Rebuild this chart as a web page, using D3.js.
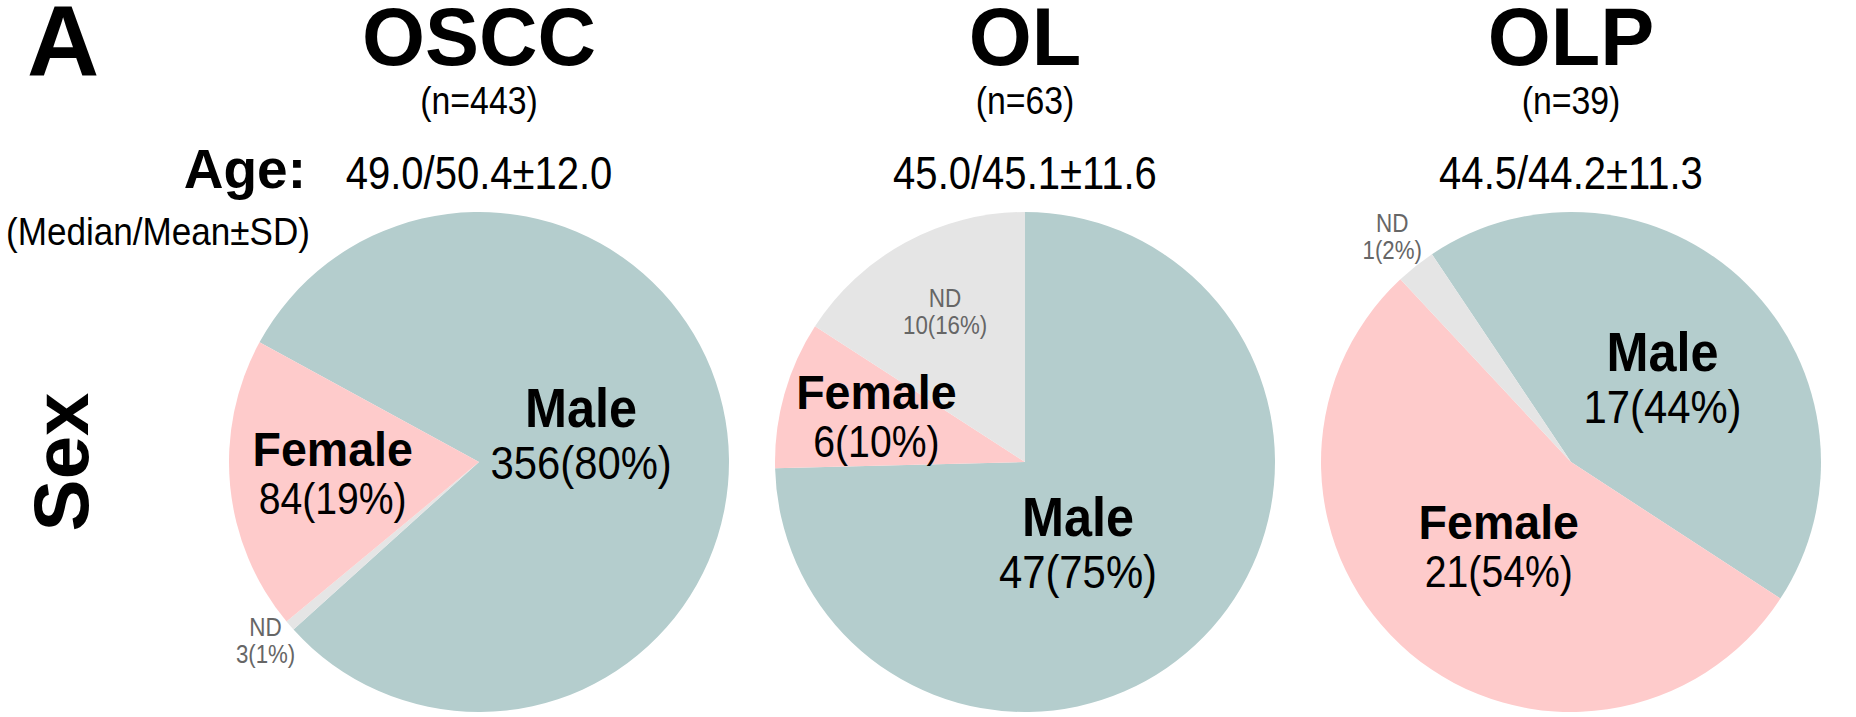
<!DOCTYPE html>
<html>
<head>
<meta charset="utf-8">
<script src="https://cdn.jsdelivr.net/npm/d3@7"></script>
<style>
body { margin: 0; background: #fff; }
svg text { font-family: "Liberation Sans", Arial, Helvetica, sans-serif; }
</style>
</head>
<body>
<div id="vis"></div>
<script>
// values
var groups = ["OSCC", "OL", "OLP"];
var groupN = [443, 63, 39];
var ageMedian = ["49.0", "45.0", "44.5"];
var ageMean = ["50.4", "45.1", "44.2"];
var ageSD = ["12.0", "11.6", "11.3"];
var sexCats = ["Male", "Female", "ND"];
var maleCount = [356, 47, 17];
var femaleCount = [84, 6, 21];
var ndCount = [3, 10, 1];
var malePct = [80, 75, 44];
var femalePct = [19, 10, 54];
var ndPct = [1, 16, 2];

// layout
var width = 1856, height = 717;
var radius = 250, cy = 462;

// slice order + rotation of each pie (degrees clockwise from 12 o'clock)
var sliceOrder = [["Male", "ND", "Female"], ["Male", "Female", "ND"], ["Male", "Female", "ND"]];
var startDeg = [298.6, 0, 326.2];

// where the labels sit: fraction of radius + small angle nudge
var labelPlace = [
    {Male: {f: 0.41, da: 1.8}, Female: {f: 0.596, da: -5.3}, ND: {f: 1.136, da: -0.4}},
    {Male: {f: 0.454, da: 17.9}, Female: {f: 0.606, da: -4.5}, ND: {f: 0.65, da: -0.9}},
    {Male: {f: 0.448, da: 10.1}, Female: {f: 0.498, da: -4.6}, ND: {f: 1.124, da: -1.1}}
];

// the original uses a narrow-ish face, so text gets squeezed a bit (sx)
var labelStyle = {
    Male: {top: 56, topSx: 0.9, val: 47, off: 26, weight: "bold", fill: "#000"},
    Female: {top: 48, topSx: 0.97, val: 44, off: 24, weight: "bold", fill: "#000"},
    ND: {top: 25, topSx: 0.9, val: 25, off: 13.5, weight: "normal", fill: "#666"}
};
var narrow = 0.89;

var x = d3.scalePoint().domain(groups).range([479, 1571]);

var color = d3.scaleOrdinal()
    .domain(sexCats)
    .range(["#b4cdcd", "#fecbcb", "#e5e5e5"]);

var svg = d3.select("#vis")
    .append("svg")
    .attr("width", width)
    .attr("height", height);

function addText(parent, tx, ty, sx, txt) {
    return parent.append("text")
        .attr("transform", "translate(" + tx + "," + ty + ") scale(" + sx + ",1)")
        .text(txt);
}

// panel letter and row label
svg.append("text")
    .attr("x", 27)
    .attr("y", 76)
    .style("font-size", "100px")
    .style("font-weight", "bold")
    .text("A");

svg.append("text")
    .attr("transform", "translate(88," + cy + ") rotate(-90)")
    .attr("text-anchor", "middle")
    .style("font-size", "78px")
    .style("font-weight", "bold")
    .text("Sex");

// age row label
svg.append("text")
    .attr("x", 306)
    .attr("y", 188)
    .attr("text-anchor", "end")
    .style("font-size", "55px")
    .style("font-weight", "bold")
    .text("Age:");

addText(svg, 310, 245, 0.9, "(Median/Mean\u00b1SD)")
    .attr("text-anchor", "end")
    .style("font-size", "39px");

var arc = d3.arc().innerRadius(0).outerRadius(radius);

groups.forEach(function (g, i) {
    var counts = {Male: maleCount[i], Female: femaleCount[i], ND: ndCount[i]};
    var pcts = {Male: malePct[i], Female: femalePct[i], ND: ndPct[i]};
    var rows = sliceOrder[i].map(function (c) {
        return {cat: c, count: counts[c], pct: pcts[c]};
    });

    var a0 = startDeg[i] * Math.PI / 180;
    var pie = d3.pie()
        .sort(null)
        .value(function (d) { return d.count; })
        .startAngle(a0)
        .endAngle(a0 + 2 * Math.PI);

    var cx = x(g);

    // headers
    svg.append("text")
        .attr("x", cx)
        .attr("y", 65)
        .attr("text-anchor", "middle")
        .style("font-size", "81px")
        .style("font-weight", "bold")
        .text(g);

    addText(svg, cx, 114, narrow, "(n=" + groupN[i] + ")")
        .attr("text-anchor", "middle")
        .style("font-size", "38px");

    addText(svg, cx, 189, 0.87, ageMedian[i] + "/" + ageMean[i] + "\u00b1" + ageSD[i])
        .attr("text-anchor", "middle")
        .style("font-size", "46px");

    var pg = svg.append("g")
        .attr("transform", "translate(" + cx + "," + cy + ")");

    var arcs = pie(rows);

    pg.selectAll("path")
        .data(arcs)
        .enter().append("path")
        .attr("d", arc)
        .attr("fill", function (d) { return color(d.data.cat); });

    // labels
    arcs.forEach(function (d) {
        var lp = labelPlace[i][d.data.cat];
        var st = labelStyle[d.data.cat];
        var mid = (d.startAngle + d.endAngle) / 2 + lp.da * Math.PI / 180;
        var rr = lp.f * radius;
        var px = Math.sin(mid) * rr, py = -Math.cos(mid) * rr;

        addText(pg, px, py - st.off, st.topSx, d.data.cat)
            .attr("text-anchor", "middle")
            .attr("fill", st.fill)
            .style("font-size", st.top + "px")
            .style("font-weight", st.weight);

        addText(pg, px, py + st.off, narrow, d.data.count + "(" + d.data.pct + "%)")
            .attr("text-anchor", "middle")
            .attr("fill", st.fill)
            .style("font-size", st.val + "px");
    });
});
</script>
</body>
</html>
